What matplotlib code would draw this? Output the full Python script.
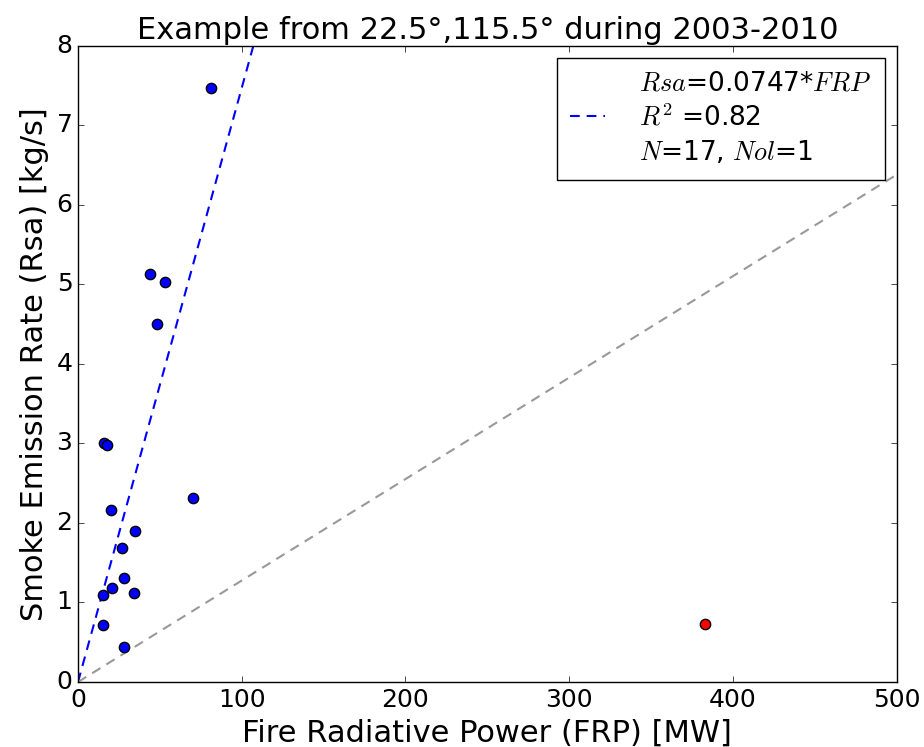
import numpy as np
import matplotlib
matplotlib.use("Agg")
import matplotlib.pyplot as plt

plt.style.use("classic")
plt.rcParams["mathtext.fontset"] = "cm"
plt.rcParams["font.family"] = "DejaVu Sans"

# datos
frp = [81, 44, 53, 48, 16, 18, 70, 20, 35, 27, 28, 21, 15, 34, 15, 28]
rsa = [7.47, 5.13, 5.03, 4.50, 3.00, 2.98, 2.31, 2.16, 1.90, 1.69, 1.31, 1.18, 1.09, 1.12, 0.72, 0.44]
frp_ol = [383]
rsa_ol = [0.73]
pendiente = 0.0747
pendiente_ref = 0.01276
r2 = 0.82
n_tot = 17
n_ol = 1

fig = plt.figure(figsize=(9.24, 7.47), dpi=100, facecolor="white")
ax = fig.add_axes([0.0844, 0.087, 0.886, 0.8516])

xx = np.array([0, 500])
ax.plot([], [], " ", label=r"$Rsa$=%.4f*$FRP$" % pendiente)
ax.plot(xx, pendiente * xx, color="blue", lw=1.5, dashes=(7, 5), label=r"$R^2$ =%.2f" % r2)
ax.plot([], [], " ", label=r"$N$=%d, $Nol$=%d" % (n_tot, n_ol))
ax.plot(xx, pendiente_ref * xx, color="#999999", lw=1.5, dashes=(7, 5))

ax.scatter(frp, rsa, s=55, c="blue", edgecolors="black", zorder=3)
ax.scatter(frp_ol, rsa_ol, s=55, c="red", edgecolors="black", zorder=3)

ax.set_xlim(0, 500)
ax.set_ylim(0, 8)
ax.set_xticks([0, 100, 200, 300, 400, 500])
ax.set_yticks(range(0, 9))
ax.tick_params(labelsize=18)
ax.set_xlabel("Fire Radiative Power (FRP) [MW]", fontsize=22)
ax.set_ylabel("Smoke Emission Rate (Rsa) [kg/s]", fontsize=22)
ax.set_title("Example from 22.5°,115.5° during 2003-2010", fontsize=22)

leg = ax.legend(loc="upper right", fontsize=19, numpoints=1, handlelength=1.3,
                handletextpad=1.3, borderpad=0.5, borderaxespad=0.45, labelspacing=0.3)

fig.savefig("out.png", dpi=100, facecolor="white")
